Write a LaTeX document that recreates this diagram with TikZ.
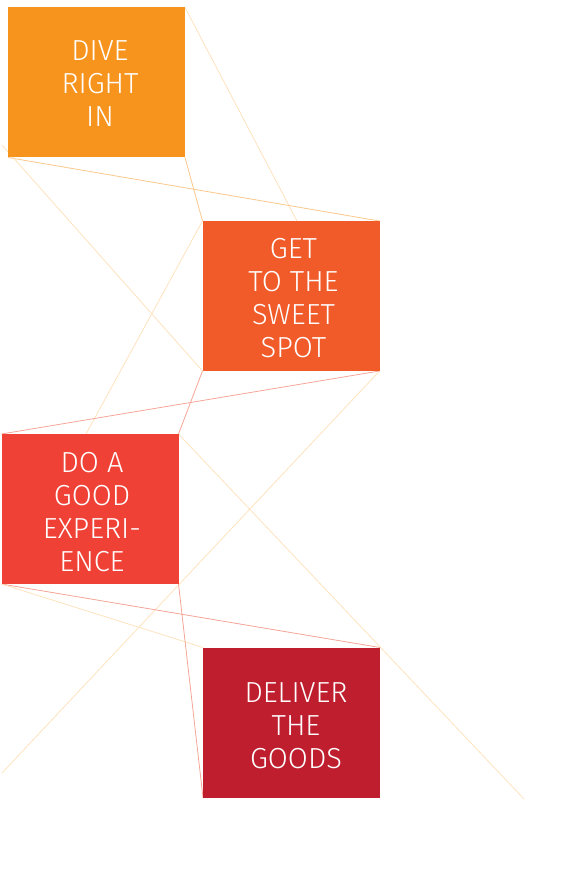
\documentclass[tikz,border=0pt]{standalone}
\usepackage{fontspec}
\newfontfamily\dinfont{Fira Sans Light}
\usetikzlibrary{backgrounds}
\definecolor{cA}{RGB}{247,148,30}
\definecolor{cB}{RGB}{241,90,41}
\definecolor{cC}{RGB}{239,65,54}
\definecolor{cD}{RGB}{190,30,45}
\definecolor{lnOrange}{RGB}{250,200,140}
\definecolor{lnPale}{RGB}{254,226,190}
\definecolor{lnPink}{RGB}{245,165,150}
\tikzset{
  stepbox/.style={rectangle, draw=none, minimum width=177pt, minimum height=150pt,
    inner sep=0pt, outer sep=0pt},
  steptext/.style={text=white, inner sep=0pt, align=center,
    font=\dinfont\fontsize{29}{33}\selectfont},
  ln/.style={line width=0.8pt}
}
\begin{document}
\begin{tikzpicture}[x=1pt,y=-1pt]
\useasboundingbox (0,0) rectangle (566,890);
\node[stepbox, fill=cA] (b1) at (96.5,82.5) {};
\node[stepbox, fill=cB] (b2) at (291,296) {};
\node[stepbox, fill=cC] (b3) at (90,509) {};
\node[stepbox, fill=cD] (b4) at (291.5,722.5) {};
\node[steptext] (t1) at (100,83.5) {DIVE\\RIGHT\\IN};
\node[steptext] (t2) at (293.5,298) {GET\\TO THE\\SWEET\\SPOT};
\node[steptext] (t3) at (92,512) {DO A\\GOOD\\EXPERI-\\ENCE};
\node[steptext] (t4) at (296,725.5) {DELIVER\\THE\\GOODS};
\coordinate (p1) at (297,221);
\coordinate (p2) at (2,145);
\coordinate (p3) at (86,434);
\coordinate (p4) at (2,773);
\coordinate (p5) at (524,799);
\begin{scope}[on background layer]
\draw[ln, lnPale] (b1.north east) -- (p1);
\draw[ln, lnOrange] (b1.south west) -- (b2.north east);
\draw[ln, lnOrange] (b1.south east) -- (b2.north west);
\draw[ln, lnPale] (p2) -- (b2.south west);
\draw[ln, lnPale] (b2.north west) -- (p3);
\draw[ln, lnPink] (b2.south east) -- (b3.north west);
\draw[ln, lnPink] (b2.south west) -- (b3.north east);
\draw[ln, lnPale] (b2.south east) -- (p4);
\draw[ln, lnPale] (b3.north east) -- (p5);
\draw[ln, lnPink] (b3.south west) -- (b4.north east);
\draw[ln, lnPale] (b3.south west) -- (b4.north west);
\draw[ln, lnPink] (b3.south east) -- (b4.south west);
\end{scope}
\end{tikzpicture}
\end{document}
